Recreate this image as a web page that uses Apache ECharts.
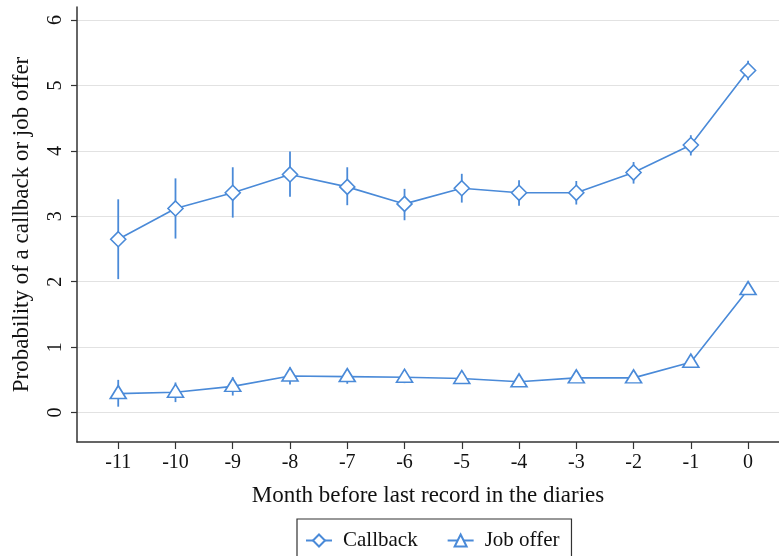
<!DOCTYPE html>
<html>
<head>
<meta charset="utf-8">
<script src="https://cdn.jsdelivr.net/npm/echarts@6/dist/echarts.min.js"></script>
<style>
html,body{margin:0;padding:0;background:#fff;}
#chart{width:779px;height:556px;}
</style>
</head>
<body>
<div id="chart"></div>
<script>
var months = [-11, -10, -9, -8, -7, -6, -5, -4, -3, -2, -1, 0];
var callback = [2.65, 3.12, 3.36, 3.64, 3.45, 3.19, 3.43, 3.36, 3.36, 3.67, 4.09, 5.23];
var callbackLow = [2.04, 2.66, 2.98, 3.30, 3.17, 2.94, 3.21, 3.16, 3.18, 3.50, 3.93, 5.08];
var callbackHigh = [3.26, 3.58, 3.75, 3.99, 3.75, 3.42, 3.65, 3.55, 3.54, 3.83, 4.24, 5.38];
var jobOffer = [0.29, 0.31, 0.40, 0.56, 0.55, 0.54, 0.52, 0.47, 0.53, 0.53, 0.77, 1.88];
var jobLow = [0.09, 0.16, 0.26, 0.43, 0.44, 0.45, 0.44, 0.40, 0.46, 0.46, 0.70, 1.80];
var jobHigh = [0.50, 0.46, 0.54, 0.69, 0.66, 0.63, 0.60, 0.54, 0.60, 0.60, 0.84, 1.96];
var yTicks = [0, 1, 2, 3, 4, 5, 6];
var xTicks = months.slice();

var blue = '#4a8ad8';
var font = 'Liberation Serif';

function pairs(xs, ys) { return xs.map(function (x, i) { return [x, ys[i]]; }); }
function ciData(xs, lo, hi) { return xs.map(function (x, i) { return [x, lo[i], hi[i]]; }); }

function ciSeries(data) {
  return {
    type: 'custom',
    z: 1,
    silent: true,
    data: data,
    encode: { x: 0, y: [1, 2] },
    renderItem: function (params, api) {
      var p1 = api.coord([api.value(0), api.value(1)]);
      var p2 = api.coord([api.value(0), api.value(2)]);
      return {
        type: 'line',
        shape: { x1: p1[0], y1: p1[1], x2: p2[0], y2: p2[1] },
        style: { stroke: blue, lineWidth: 1.8 }
      };
    }
  };
}

var chart = echarts.init(document.getElementById('chart'), null, { renderer: 'canvas' });
chart.setOption({
  backgroundColor: '#fff',
  animation: false,
  grid: { left: 77, right: 0, top: 7, bottom: 114, containLabel: false, outerBoundsMode: 'none' },
  xAxis: {
    type: 'value',
    min: -11.72,
    max: 0.54,
    name: 'Month before last record in the diaries',
    nameLocation: 'middle',
    nameGap: 42,
    nameTextStyle: { fontFamily: font, fontSize: 23, color: '#111' },
    axisLine: { show: true, onZero: false, lineStyle: { color: '#333', width: 1.5 } },
    axisTick: { show: true, length: 7, customValues: xTicks, lineStyle: { color: '#333', width: 1.2 } },
    axisLabel: { customValues: xTicks, fontFamily: font, fontSize: 20, color: '#111', margin: 11 },
    splitLine: { show: false }
  },
  yAxis: {
    type: 'value',
    min: -0.45,
    max: 6.2,
    name: 'Probability of a callback or job offer',
    nameLocation: 'middle',
    nameRotate: 90,
    nameGap: 44,
    nameTextStyle: { fontFamily: font, fontSize: 23, color: '#111' },
    axisLine: { show: true, onZero: false, lineStyle: { color: '#333', width: 1.5 } },
    axisTick: { show: true, length: 6, customValues: yTicks, lineStyle: { color: '#333', width: 1.2 } },
    axisLabel: { customValues: yTicks, rotate: 90, fontFamily: font, fontSize: 20, color: '#111', margin: 11 },
    splitLine: { show: true, customValues: yTicks, lineStyle: { color: '#e2e2e2', width: 1.2 } }
  },
  legend: {
    top: 519,
    left: 297,
    padding: [11, 12, 20, 8],
    borderColor: '#333',
    borderWidth: 1.2,
    itemWidth: 26,
    itemHeight: 15,
    itemGap: 29,
    textStyle: { fontFamily: font, fontSize: 21, color: '#111', padding: [0, 0, 0, 6] },
    data: ['Callback', 'Job offer']
  },
  series: [
    ciSeries(ciData(months, callbackLow, callbackHigh)),
    ciSeries(ciData(months, jobLow, jobHigh)),
    {
      name: 'Callback',
      type: 'line',
      z: 3,
      data: pairs(months, callback),
      symbol: 'diamond',
      symbolSize: [15, 15],
      showAllSymbol: true,
      lineStyle: { color: blue, width: 1.6 },
      itemStyle: { color: '#fff', borderColor: blue, borderWidth: 1.6 }
    },
    {
      name: 'Job offer',
      type: 'line',
      z: 3,
      data: pairs(months, jobOffer),
      symbol: 'triangle',
      symbolSize: [16, 13],
      symbolOffset: [0, -1.5],
      showAllSymbol: true,
      lineStyle: { color: blue, width: 1.6 },
      itemStyle: { color: '#fff', borderColor: blue, borderWidth: 1.6 }
    }
  ]
});
</script>
</body>
</html>
